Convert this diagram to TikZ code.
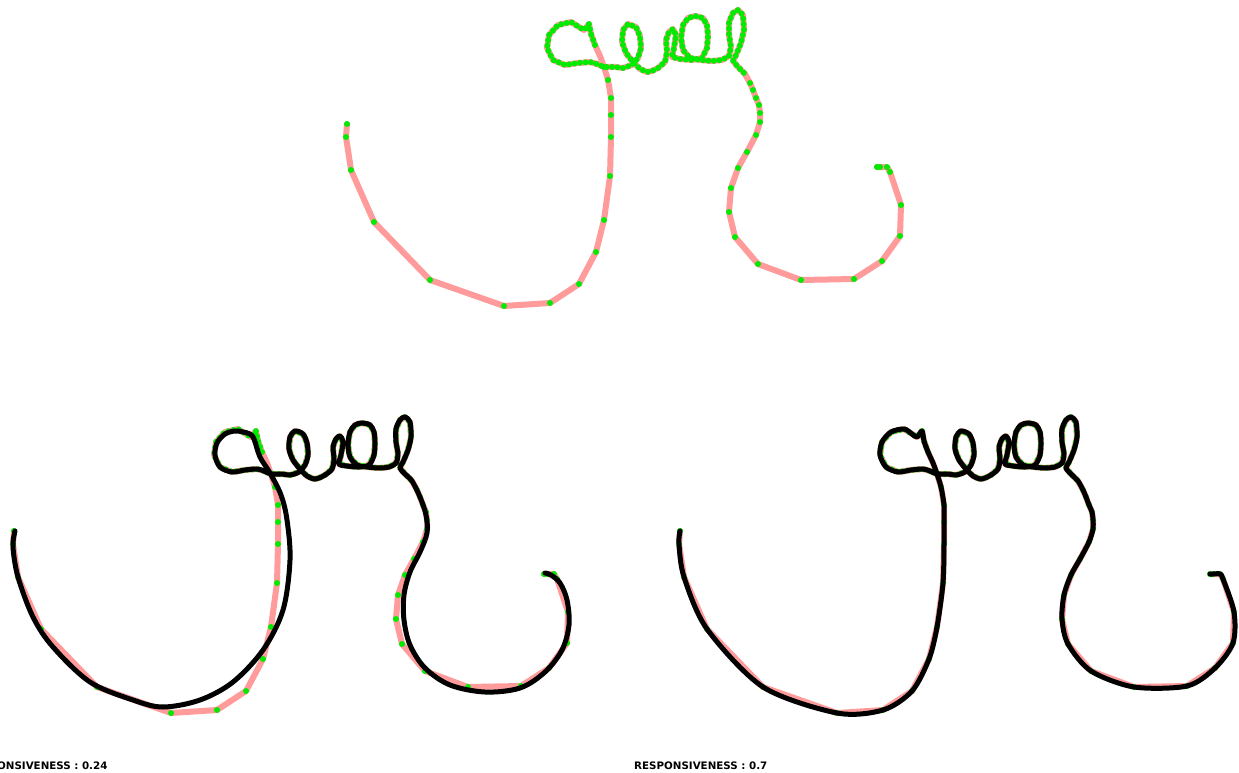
\documentclass[tikz,border=0pt]{standalone}
\usepackage{fontspec}
\setsansfont{DejaVu Sans}
\definecolor{rawpink}{RGB}{255,155,155}
\definecolor{dotgreen}{RGB}{0,235,0}
\tikzset{
  rawline/.style={draw=rawpink,line width=6pt,line join=round,line cap=round},
  dotline/.style={draw=dotgreen,line width=6pt,line cap=round,dash pattern=on 0pt off 5.5pt},
  smoothline/.style={draw=black,line width=5pt,line cap=round,line join=round},
  vdot/.style={fill=dotgreen},
  lbl/.style={font=\sffamily\bfseries\fontsize{10.3}{12}\selectfont,anchor=base west,inner sep=0pt}
}
% raw stroke
\newcommand\rawStroke{\draw[rawline] plot coordinates {(347,124) (346,137) (351,170) (374,222) (430,280) (504,306) (550,303) (579,284) (596,252) (604,220) (610,176) (611,137) (611,115) (611,98) (608,80) (604,67) (600,56) (595,45) (591,34) (589,24)
 (584,30) (579,27) (571,22) (558,25) (549,35) (547,48) (553,60) (565,65) (578,63) (590,62) (597,64) (604,67)
 (615,67) (623,68) (632,65) (638,58) (641,48) (640,36) (636,27) (628,24) (623,30) (622,42) (626,53) (633,62) (640,69) (647,72) (652,71) (658,68) (665,62) (667,52) (666,40) (669,32) (673,29) (676,35) (674,48) (672,57)
 (680,59) (692,60) (702,58) (707,48) (708,36) (707,25) (703,18) (695,16) (688,18) (683,25) (681,38) (683,50) (690,58) (700,60) (712,61) (722,60) (729,56)
 (731,47) (729,35) (729,22) (733,13) (738,10) (743,15) (744,30) (741,43) (736,55) (733,61) (738,67) (745,74)
 (750,83) (753,90) (756,98) (759,105) (760,113) (760,122) (756,135) (747,152) (738,168) (731,188) (729,212) (735,237) (758,264) (801,280) (854,279) (882,261) (900,236) (901,205) (890,172) (887,167) (880,167) (877,167)};}
% dense part of the stroke
\newcommand\denseDots{\draw[dotline] plot coordinates {(595,45) (591,34) (589,24)
 (584,30) (579,27) (571,22) (558,25) (549,35) (547,48) (553,60) (565,65) (578,63) (590,62) (597,64) (604,67)
 (615,67) (623,68) (632,65) (638,58) (641,48) (640,36) (636,27) (628,24) (623,30) (622,42) (626,53) (633,62) (640,69) (647,72) (652,71) (658,68) (665,62) (667,52) (666,40) (669,32) (673,29) (676,35) (674,48) (672,57)
 (680,59) (692,60) (702,58) (707,48) (708,36) (707,25) (703,18) (695,16) (688,18) (683,25) (681,38) (683,50) (690,58) (700,60) (712,61) (722,60) (729,56)
 (731,47) (729,35) (729,22) (733,13) (738,10) (743,15) (744,30) (741,43) (736,55) (733,61) (738,67) (745,74)};}
\newcommand\vertexDots{\foreach \p in {(347,124),(346,137),(351,170),(374,222),(430,280),(504,306),(550,303),(579,284),(596,252),(604,220),(610,176),(611,137),(611,115),(611,98),(608,80),(604,67),
 (750,83),(753,90),(756,98),(759,105),(760,113),(760,122),(756,135),(747,152),(738,168),(731,188),(729,212),(735,237),(758,264),(801,280),(854,279),(882,261),(900,236),(901,205),(890,172),(887,167),(880,167),(877,167)}
 {\fill[vdot] \p circle (3pt);}}
\begin{document}
\begin{tikzpicture}[x=1pt,y=-1pt]
\useasboundingbox (0,0) rectangle (1239,773);
\clip (0,0) rectangle (1239,773);
% top panel: raw samples
\begin{scope}
\rawStroke
\denseDots
\vertexDots
\end{scope}
% bottom-left panel: responsiveness 0.24
\begin{scope}[shift={(-333,407)}]
\rawStroke
\denseDots
\vertexDots
\draw[smoothline] plot[smooth,tension=0.55] coordinates {(348,124) (346,140) (351,170) (366,210) (386,240) (423,275) (466,293) (496,300) (533,293) (566,275) (596,243) (616,203) (623,153) (620,113) (614,88) (603,66) (593,50) (587,32) (583,27)
 (576,25) (568,24) (558,27) (550,36) (548,48) (553,60) (565,65) (578,63) (590,62) (597,64) (604,67)
 (615,67) (623,68) (632,65) (638,58) (641,48) (640,36) (636,27) (628,24) (623,30) (622,42) (626,53) (633,62) (640,69) (647,72) (652,71) (658,68) (665,62) (667,52) (666,40) (669,32) (673,29) (676,35) (674,48) (672,57)
 (680,59) (692,60) (702,58) (707,48) (708,36) (707,25) (703,18) (695,16) (688,18) (683,25) (681,38) (683,50) (690,58) (700,60) (712,61) (722,60) (729,56)
 (731,47) (729,35) (729,22) (733,13) (738,10) (743,15) (744,30) (741,43) (736,55) (733,61) (738,67) (745,74)
 (753,90) (759,108) (760,126) (753,145) (743,165) (737,188) (737,213) (743,238) (758,261) (783,278) (818,285) (853,281) (878,265) (895,243) (902,218) (900,193) (893,176) (884,168) (878,166)};
\end{scope}
% bottom-right panel: responsiveness 0.7
\begin{scope}[shift={(333,407)}]
\rawStroke
\denseDots
\vertexDots
\draw[smoothline] plot[smooth,tension=0.5] coordinates {(347,124) (346,137) (351,170) (374,222) (430,280) (504,306) (550,303) (579,284) (596,252) (604,220) (610,176) (611,137) (611,115) (611,98) (608,80) (604,67) (600,56) (595,45) (591,34) (589,24)
 (584,30) (579,27) (571,22) (558,25) (549,35) (547,48) (553,60) (565,65) (578,63) (590,62) (597,64) (604,67)
 (615,67) (623,68) (632,65) (638,58) (641,48) (640,36) (636,27) (628,24) (623,30) (622,42) (626,53) (633,62) (640,69) (647,72) (652,71) (658,68) (665,62) (667,52) (666,40) (669,32) (673,29) (676,35) (674,48) (672,57)
 (680,59) (692,60) (702,58) (707,48) (708,36) (707,25) (703,18) (695,16) (688,18) (683,25) (681,38) (683,50) (690,58) (700,60) (712,61) (722,60) (729,56)
 (731,47) (729,35) (729,22) (733,13) (738,10) (743,15) (744,30) (741,43) (736,55) (733,61) (738,67) (745,74)
 (750,83) (753,90) (756,98) (759,105) (760,113) (760,122) (756,135) (747,152) (738,168) (731,188) (729,212) (735,237) (758,264) (801,280) (854,279) (882,261) (900,236) (901,205) (890,172) (887,167) (880,167) (877,167)};
\end{scope}
\node[lbl] (l1) at (-33,769) {RESPONSIVENESS : 0.24};
\node[lbl] (l2) at (634,769) {RESPONSIVENESS : 0.7};
\end{tikzpicture}
\end{document}
